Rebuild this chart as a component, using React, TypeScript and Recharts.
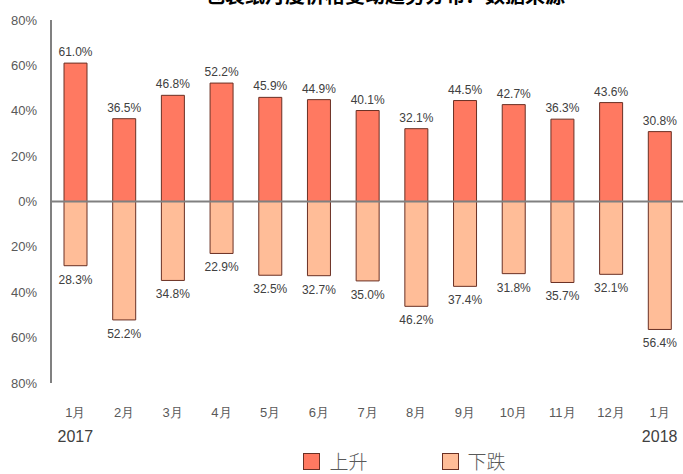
import { Bar, BarChart, LabelList, Legend, ReferenceLine, XAxis, YAxis } from "recharts";

const months = ["1月", "2月", "3月", "4月", "5月", "6月", "7月", "8月", "9月", "10月", "11月", "12月", "1月"];
const years = ["2017", "", "", "", "", "", "", "", "", "", "", "", "2018"];
const upValues = [61.0, 36.5, 46.8, 52.2, 45.9, 44.9, 40.1, 32.1, 44.5, 42.7, 36.3, 43.6, 30.8];
const downValues = [28.3, 52.2, 34.8, 22.9, 32.5, 32.7, 35.0, 46.2, 37.4, 31.8, 35.7, 32.1, 56.4];
const yTicks = [-80, -60, -40, -20, 0, 20, 40, 60, 80];

const UP = "#FF7961";
const DOWN = "#FFBD98";
const EDGE = "#6a3024";
const FONT = "'Liberation Sans Narrow', 'Arial Narrow', 'Liberation Sans', Arial, sans-serif";

const data = months.map((m, i) => ({
  key: `${m}-${i}`,
  month: m,
  year: years[i],
  up: upValues[i],
  down: -downValues[i],
}));

function MonthTick({ x, y, payload }: any) {
  const d = data[payload.index];
  return (
    <g>
      <text x={x} y={y + 26} textAnchor="middle" fontSize={13} fill="#595959" fontFamily={FONT}>
        {d.month}
      </text>
      {d.year && (
        <text x={x} y={y + 51} textAnchor="middle" fontSize={16} fill="#404040" fontFamily="'Liberation Sans', Arial, sans-serif">
          {d.year}
        </text>
      )}
    </g>
  );
}

function ValueLabel({ x, y, width, height, value }: any) {
  const v = Number(value);
  const cx = x + width / 2;
  const ty = v < 0 ? Math.max(y, y + height) + 18 : Math.min(y, y + height) - 7;
  return (
    <text x={cx} y={ty} textAnchor="middle" fontSize={12} fill="#404040" fontFamily={FONT}>
      {Math.abs(v).toFixed(1)}%
    </text>
  );
}

function LegendBox() {
  const items = [
    { label: "上升", color: UP },
    { label: "下跌", color: DOWN },
  ];
  return (
    <div style={{ display: "flex", gap: 74, justifyContent: "center", alignItems: "center" }}>
      {items.map((it) => (
        <div key={it.label} style={{ display: "flex", alignItems: "center", gap: 9 }}>
          <span style={{ width: 15, height: 15, background: it.color, border: `1px solid ${EDGE}`, display: "inline-block" }} />
          <span style={{ fontSize: 19, color: "#595959", fontFamily: "'Noto Sans CJK SC', sans-serif", fontWeight: 300, lineHeight: "20px" }}>{it.label}</span>
        </div>
      ))}
    </div>
  );
}

export default function App() {
  return (
    <div style={{ position: "absolute", left: 0, top: 0, width: 683, height: 474, overflow: "hidden", background: "#fff" }}>
      <div
        style={{
          position: "absolute",
          top: -20,
          left: 0,
          width: 770,
          textAlign: "center",
          fontSize: 20,
          fontWeight: "bold",
          fontFamily: "'Noto Sans CJK SC', sans-serif",
          color: "#000",
          whiteSpace: "nowrap",
        }}
      >
        包装纸月度价格变动趋势分布：数据来源
      </div>
      <BarChart
        width={690}
        height={474}
        data={data}
        stackOffset="sign"
        barSize={23}
        margin={{ top: 20, right: 6, left: 0, bottom: 0 }}
      >
        <XAxis dataKey="key" tick={<MonthTick />} axisLine={false} tickLine={false} height={91} interval={0} />
        <YAxis
          width={51}
          domain={[-80, 80]}
          ticks={yTicks}
          tickFormatter={(v: number) => `${Math.abs(v)}%`}
          tick={{ fontSize: 13, fill: "#595959", fontFamily: FONT }}
          tickLine={false}
          tickSize={0}
          tickMargin={14}
          axisLine={{ stroke: "#808080", strokeWidth: 2 }}
        />
        <Legend
          verticalAlign="middle"
          content={<LegendBox />}
          wrapperStyle={{ top: 451, left: 63, width: 683 }}
        />
        <Bar dataKey="up" name="上升" stackId="a" fill={UP} stroke={EDGE} strokeWidth={1} isAnimationActive={false}>
          <LabelList dataKey="up" content={<ValueLabel />} />
        </Bar>
        <Bar dataKey="down" name="下跌" stackId="a" fill={DOWN} stroke={EDGE} strokeWidth={1} isAnimationActive={false}>
          <LabelList dataKey="down" content={<ValueLabel />} />
        </Bar>
        <ReferenceLine y={0} stroke="#808080" strokeWidth={2} />
      </BarChart>
    </div>
  );
}
